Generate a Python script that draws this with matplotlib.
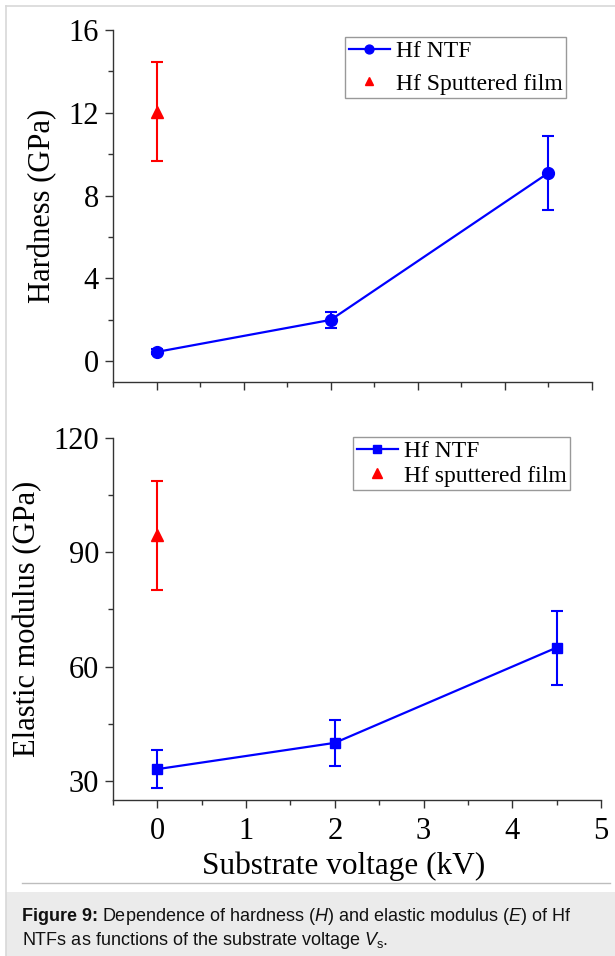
import matplotlib
matplotlib.use('Agg')
import matplotlib.pyplot as plt
from matplotlib.ticker import MultipleLocator
from matplotlib.lines import Line2D
from matplotlib.patches import Rectangle

# ---- data ----
voltage = [0, 2, 4.5]
hardness = [0.45, 2.0, 9.1]
hardness_err = [0.12, 0.4, 1.8]
sput_voltage = [0]
sput_hardness = [12.05]
sput_hardness_err = [2.4]

modulus = [33.1, 40.0, 65.0]
modulus_err = [4.9, 6.0, 9.7]
sput_modulus = [94.5]
sput_modulus_err = [14.3]

ntf_label = "Hf NTF"
sput_label_top = "Hf Sputtered film"
sput_label_bot = "Hf sputtered film"

caption_bold = "Figure 9:"
caption_line1 = r"Dependence of hardness ($\mathit{H}$) and elastic modulus ($\mathit{E}$) of Hf"
caption_line2 = r"NTFs as functions of the substrate voltage $V_\mathrm{s}$."

plt.rcParams['font.family'] = ['Liberation Serif', 'DejaVu Serif']
plt.rcParams['mathtext.fontset'] = 'custom'
plt.rcParams['mathtext.rm'] = 'Liberation Sans'
plt.rcParams['mathtext.it'] = 'Liberation Sans:italic'
plt.rcParams['mathtext.bf'] = 'Liberation Sans:bold'

W, H = 615, 956
fig = plt.figure(figsize=(W / 100, H / 100), dpi=100)


def rect(l, t, r, b):
    return [l / W, 1 - b / H, (r - l) / W, (b - t) / H]


def fx(x):
    return x / W


def fy(y):
    return 1 - y / H


# frame and caption box
fig.add_artist(Rectangle((fx(6), 0), 1 - fx(6), fy(892), transform=fig.transFigure,
                         facecolor='#ebebeb', edgecolor='none', zorder=0))
fig.add_artist(Line2D([fx(6), fx(6)], [0, fy(6)], transform=fig.transFigure,
                      color='#d8d8d8', lw=1.2))
fig.add_artist(Line2D([fx(6), 1], [fy(6), fy(6)], transform=fig.transFigure,
                      color='#d8d8d8', lw=1.2))
fig.add_artist(Line2D([fx(22), fx(610)], [fy(883), fy(883)], transform=fig.transFigure,
                      color='#bdbdbd', lw=1.0))

ax1 = fig.add_axes(rect(113, 30, 592, 382))
ax2 = fig.add_axes(rect(113, 438, 601, 800))

blue = '#0000ff'
red = '#ff0000'
spine_c = '#333333'

for ax in (ax1, ax2):
    ax.set_facecolor('none')
    ax.spines['top'].set_visible(False)
    ax.spines['right'].set_visible(False)
    for s in ('left', 'bottom'):
        ax.spines[s].set_linewidth(1.0)
        ax.spines[s].set_color(spine_c)
    ax.tick_params(which='major', direction='out', length=6, width=1.0, color=spine_c,
                   labelsize=22, pad=4)
    ax.tick_params(which='minor', direction='out', length=3.5, width=1.0, color=spine_c)
    ax.tick_params(axis='x', pad=6)
    ax.xaxis.set_major_locator(MultipleLocator(1))
    ax.xaxis.set_minor_locator(MultipleLocator(0.5))
    ax.set_xlim(-0.5, 5)

leg_kw = dict(loc='upper left', bbox_transform=fig.transFigure, borderaxespad=0,
              fontsize=17, frameon=True, fancybox=False, edgecolor='#999999',
              framealpha=1, handlelength=1.75, handletextpad=0.25, borderpad=0.15)

# ---- top: hardness ----
ax1.errorbar(voltage, hardness, yerr=hardness_err, fmt='none', ecolor=blue,
             elinewidth=1.5, capsize=4.5, capthick=1.5)
ax1.plot(voltage, hardness, '-o', color=blue, lw=1.6, ms=8.5, label=ntf_label)
ax1.errorbar(sput_voltage, sput_hardness, yerr=sput_hardness_err, fmt='none', ecolor=red,
             elinewidth=1.5, capsize=4.5, capthick=1.5)
ax1.plot(sput_voltage, sput_hardness, '^', color=red, ms=8.5, label=sput_label_top)
ax1.set_ylim(-1, 16)
ax1.yaxis.set_major_locator(MultipleLocator(4))
ax1.yaxis.set_minor_locator(MultipleLocator(2))
ax1.tick_params(axis='x', labelbottom=False)
ax1.set_ylabel("Hardness (GPa)", fontsize=22, labelpad=8)

leg1 = ax1.legend(bbox_to_anchor=(fx(345), fy(37)), labelspacing=0.47,
                  markerscale=0.75, **leg_kw)
leg1.get_frame().set_linewidth(1.0)

# ---- bottom: elastic modulus ----
ax2.errorbar(voltage, modulus, yerr=modulus_err, fmt='none', ecolor=blue,
             elinewidth=1.5, capsize=4.5, capthick=1.5)
ax2.plot(voltage, modulus, '-s', color=blue, lw=1.6, ms=7, label=ntf_label)
ax2.errorbar(sput_voltage, sput_modulus, yerr=sput_modulus_err, fmt='none', ecolor=red,
             elinewidth=1.5, capsize=4.5, capthick=1.5)
ax2.plot(sput_voltage, sput_modulus, '^', color=red, ms=8.5, label=sput_label_bot)
ax2.set_ylim(25, 120)
ax2.yaxis.set_major_locator(MultipleLocator(30))
ax2.yaxis.set_minor_locator(MultipleLocator(15))
ax2.set_ylabel("Elastic modulus (GPa)", fontsize=22, labelpad=8)
ax2.set_xlabel("Substrate voltage (kV)", fontsize=22.5)
ax2.xaxis.set_label_coords(0.472, -0.142)
ax2.xaxis.label.set_va('top')

leg2 = ax2.legend(bbox_to_anchor=(fx(353), fy(437)), labelspacing=0.13,
                  markerscale=0.85, **leg_kw)
leg2.get_frame().set_linewidth(1.0)

# ---- caption ----
cap_kw = dict(fontsize=13, family='Liberation Sans', color='#111111', va='baseline')
t1 = fig.text(fx(22), fy(921), caption_bold, fontweight='bold', **cap_kw)
fig.canvas.draw()
r = fig.canvas.get_renderer()
bb = t1.get_window_extent(r)
fig.text((bb.x1 + 4) / W, fy(921), caption_line1, **cap_kw)
fig.text(fx(22), fy(945), caption_line2, **cap_kw)

fig.savefig('out.png', dpi=100)
